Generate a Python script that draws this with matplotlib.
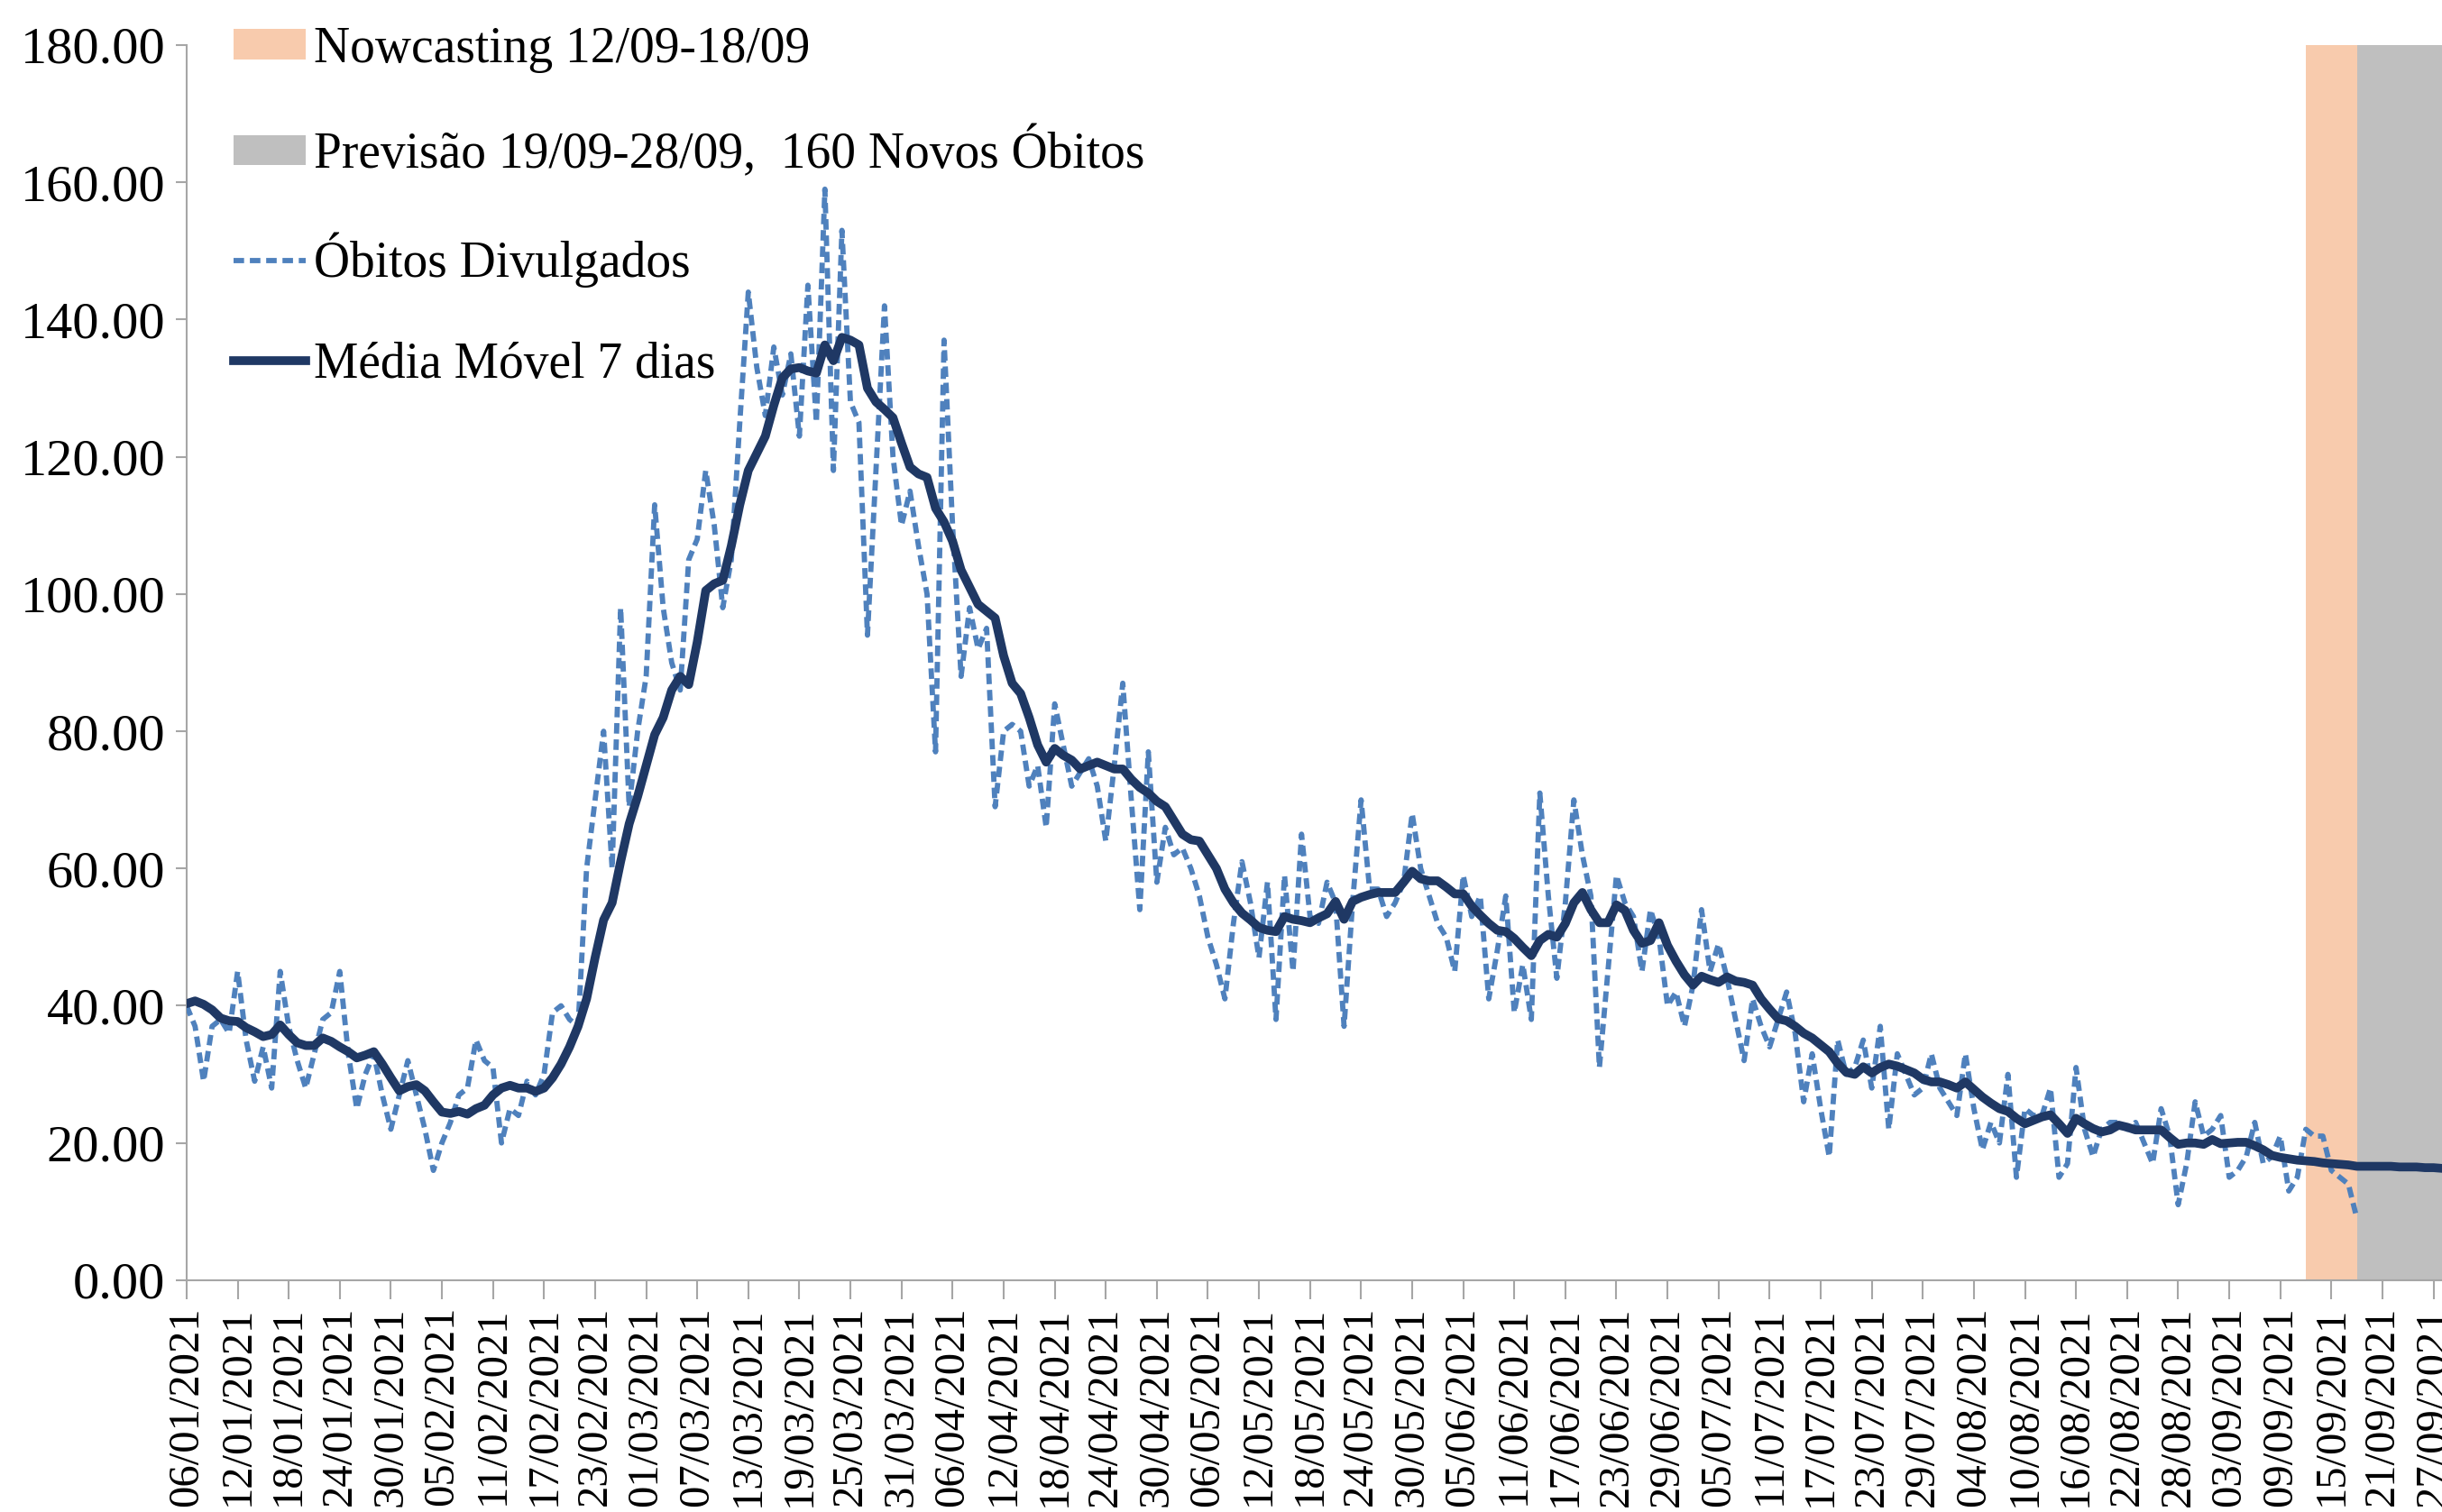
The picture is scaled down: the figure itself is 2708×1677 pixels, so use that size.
import matplotlib
matplotlib.use("Agg")
import matplotlib.pyplot as plt
import matplotlib.dates as mdates
from matplotlib.patches import Patch
from matplotlib.lines import Line2D
import pandas as pd
import numpy as np

plt.rcParams['font.family'] = ['Liberation Serif', 'DejaVu Serif']

# daily reported deaths, 06/01/2021 -> 18/09/2021
obitos = [
    40, 37, 29, 37, 38, 36, 45, 35, 29, 34, 28, 45, 37, 32, 28, 33, 38, 39, 45, 33,
    25, 30, 33, 27, 22, 27, 32, 27, 22, 16, 20, 23, 27, 28, 35, 32, 31, 20, 25, 24,
    29, 27, 30, 39, 40, 38, 37, 60, 70, 80, 60, 98, 69, 80, 88, 113, 98, 90, 86, 105,
    108, 118, 110, 98, 105, 125, 144, 133, 126, 136, 129, 135, 123, 145, 125, 159, 118, 153, 128, 125,
    94, 118, 142, 120, 110, 115, 107, 100, 77, 137, 110, 88, 98, 92, 95, 69, 80, 81, 80, 72,
    75, 66, 84, 78, 72, 74, 76, 72, 64, 75, 87, 70, 54, 77, 58, 66, 62, 63, 60, 56,
    50, 46, 41, 52, 61, 55, 47, 58, 38, 59, 45, 65, 53, 52, 58, 55, 37, 55, 70, 57,
    57, 53, 55, 58, 68, 60, 56, 52, 50, 45, 59, 53, 56, 41, 48, 56, 39, 46, 38, 71,
    56, 44, 55, 70, 62, 56, 31, 45, 59, 55, 53, 45, 54, 50, 40, 42, 37, 43, 54, 45,
    49, 44, 38, 32, 41, 37, 34, 38, 42, 36, 26, 33, 25, 18, 35, 30, 31, 35, 28, 37,
    22, 33, 30, 27, 28, 33, 28, 26, 24, 33, 25, 19, 23, 20, 30, 15, 25, 24, 24, 28,
    15, 17, 31, 22, 18, 22, 23, 23, 22, 23, 20, 17, 25, 21, 11, 17, 26, 21, 22, 24,
    15, 16, 18, 23, 17, 18, 21, 13, 15, 22, 21, 21, 16, 15, 14, 9,
]

# 7-day moving average, 06/01/2021 -> 28/09/2021 (nowcast + forecast at the end)
media_movel = [
    40.3, 40.7, 40.2, 39.4, 38.2, 37.8, 37.7, 36.8, 36.2, 35.5, 35.8, 37.2, 35.8, 34.6, 34.2, 34.2, 35.3, 34.8, 34.0, 33.3,
    32.4, 32.8, 33.3, 31.5, 29.5, 27.6, 28.2, 28.5, 27.6, 26.0, 24.5, 24.3, 24.6, 24.2, 25.0, 25.5, 27.0, 28.0, 28.4, 28.0,
    28.0, 27.5, 28.0, 29.5, 31.5, 34.0, 37.0, 41.0, 47.0, 52.5, 55.0, 61.0, 66.5, 70.5, 75.0, 79.5, 82.0, 86.0, 88.0, 86.8,
    93.0, 100.5, 101.5, 102.0, 107.0, 113.0, 118.0, 120.5, 123.0, 127.5, 131.5, 132.8, 133.0, 132.5, 132.2, 136.3, 134.0, 137.4, 137.0, 136.3,
    130.0, 128.0, 126.9, 125.7, 122.0, 118.5, 117.5, 117.0, 112.5, 110.5, 107.7, 103.5, 101.0, 98.5, 97.5, 96.5, 91.0, 87.0, 85.5, 82.0,
    78.0, 75.5, 77.5, 76.5, 75.8, 74.5, 75.0, 75.5, 75.0, 74.5, 74.5, 73.0, 71.8, 71.0, 69.8, 69.0, 67.0, 65.0, 64.2, 64.0,
    62.0, 60.0, 57.0, 55.0, 53.5, 52.5, 51.4, 51.0, 50.8, 53.0, 52.6, 52.4, 52.1, 52.8, 53.4, 55.2, 52.6, 55.2, 55.8, 56.2,
    56.5, 56.5, 56.5, 58.0, 59.6, 58.5, 58.2, 58.2, 57.3, 56.3, 56.3, 54.5, 53.2, 52.0, 51.0, 50.8, 49.8, 48.5, 47.3, 49.5,
    50.4, 50.0, 52.0, 55.0, 56.5, 54.0, 52.1, 52.1, 54.7, 53.9, 51.0, 49.1, 49.5, 52.1, 48.8, 46.5, 44.5, 43.0, 44.3, 43.8,
    43.4, 44.2, 43.6, 43.4, 43.0, 41.0, 39.5, 38.1, 37.8, 37.0, 36.0, 35.3, 34.3, 33.3, 31.6, 30.3, 30.0, 31.1, 30.2, 31.0,
    31.5, 31.2, 30.7, 30.2, 29.3, 28.9, 28.9, 28.5, 28.0, 28.9, 27.8, 26.7, 25.8, 25.0, 24.6, 23.6, 22.8, 23.3, 23.8, 24.1,
    22.8, 21.4, 23.6, 22.8, 22.1, 21.6, 21.9, 22.6, 22.3, 21.9, 21.9, 21.9, 21.9, 20.8, 19.8, 20.0, 20.0, 19.8, 20.5, 19.9,
    20.0, 20.1, 20.1, 19.6, 19.0, 18.2, 17.9, 17.7, 17.5, 17.4, 17.3, 17.1, 17.0, 16.9, 16.8, 16.6, 16.6, 16.6, 16.6, 16.6,
    16.5, 16.5, 16.5, 16.4, 16.4, 16.3,
]

datas = pd.date_range('2021-01-06', periods=len(media_movel), freq='D')
datas_obitos = datas[:len(obitos)]

nowcast_ini, nowcast_fim = pd.Timestamp('2021-09-12'), pd.Timestamp('2021-09-18')
prev_ini, prev_fim = pd.Timestamp('2021-09-18'), pd.Timestamp('2021-09-28')

cor_nowcast = '#F8CBAD'
cor_previsao = '#BFBFBF'
cor_obitos = '#4F81BD'
cor_media = '#1F3864'
cor_eixo = '#A6A6A6'

lw_obitos = 4.2
tracos = (2.0, 1.1)
lw_media = 7.0

fig = plt.figure(figsize=(27.08, 16.77), dpi=100)
ax = fig.add_axes([0.0764, 0.1533, 1 - 0.0764, 0.9702 - 0.1533])

ax.axvspan(nowcast_ini, nowcast_fim, color=cor_nowcast, lw=0, zorder=1)
ax.axvspan(prev_ini, prev_fim, color=cor_previsao, lw=0, zorder=1)

ax.plot(datas_obitos, obitos, color=cor_obitos, lw=lw_obitos, dashes=tracos, zorder=3)
ax.plot(datas, media_movel, color=cor_media, lw=lw_media, solid_joinstyle='round',
        solid_capstyle='round', zorder=4)

ax.set_xlim(datas[0], datas[-1])
ax.set_ylim(0, 180)

ax.set_yticks(np.arange(0, 181, 20))
ax.yaxis.set_major_formatter(plt.FuncFormatter(lambda v, p: f'{v:.2f}'))
ax.set_xticks(datas[::6])
ax.xaxis.set_major_formatter(mdates.DateFormatter('%d/%m/%Y'))
plt.setp(ax.get_xticklabels(), rotation=90, ha='center', va='top')

ax.tick_params(axis='x', labelsize=35, length=15, width=1.5, color=cor_eixo, pad=6)
ax.tick_params(axis='y', labelsize=42, length=9, width=1.5, color=cor_eixo, pad=8)

for lado in ['top', 'right']:
    ax.spines[lado].set_visible(False)
for lado in ['left', 'bottom']:
    ax.spines[lado].set_color(cor_eixo)
    ax.spines[lado].set_linewidth(1.5)

handles = [
    Patch(facecolor=cor_nowcast, edgecolor='none'),
    Patch(facecolor=cor_previsao, edgecolor='none'),
    Line2D([], [], color=cor_obitos, lw=lw_obitos, dashes=tracos),
    Line2D([], [], color=cor_media, lw=lw_media),
]
labels = [
    'Nowcasting 12/09-18/09',
    'Previsão 19/09-28/09,  160 Novos Óbitos',
    'Óbitos Divulgados',
    'Média Móvel 7 dias',
]
fig.legend(handles, labels, loc='upper left', bbox_to_anchor=(0.0956, 0.983),
           frameon=False, fontsize=40, borderpad=0, borderaxespad=0,
           handlelength=1.45, handleheight=0.55, handletextpad=0.15,
           labelspacing=1.07)

fig.savefig('out.png', dpi=100)
